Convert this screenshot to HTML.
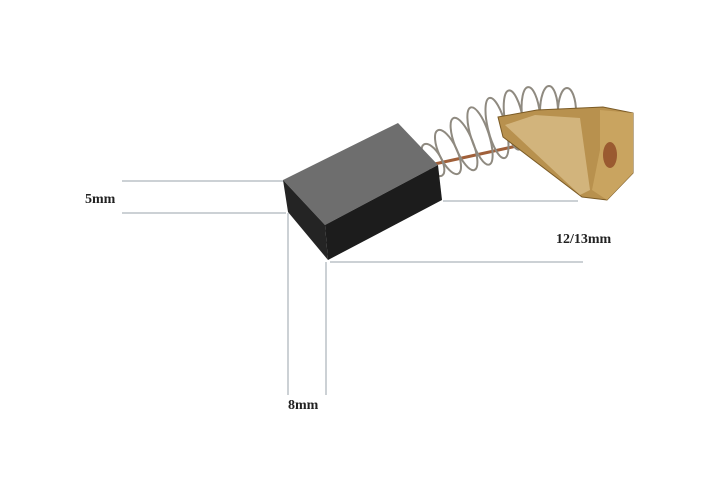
<!DOCTYPE html>
<html><head><style>body{margin:0;background:#fff}svg{display:block}</style></head><body>
<svg width="713" height="489" viewBox="0 0 713 489" font-family="Liberation Serif, serif">
<rect width="713" height="489" fill="#fff"/>
<g stroke="#9aa3ab" stroke-width="1" fill="none">
<line x1="122" y1="181" x2="285" y2="181"/>
<line x1="122" y1="213" x2="286" y2="213"/>
<line x1="288" y1="213" x2="288" y2="395"/>
<line x1="326" y1="262" x2="326" y2="395"/>
<line x1="330" y1="262" x2="583" y2="262"/>
<line x1="443" y1="201" x2="578" y2="201"/>
</g>
<!-- spring -->
<line x1="430" y1="165" x2="590" y2="130" stroke="#a0603a" stroke-width="3"/>
<g stroke="#8f8a80" stroke-width="2" fill="none">
<ellipse cx="433" cy="160" rx="8" ry="18" transform="rotate(-30 433 160)"/>
<ellipse cx="448" cy="152" rx="9" ry="24" transform="rotate(-25 448 152)"/>
<ellipse cx="464" cy="144" rx="9" ry="28" transform="rotate(-22 464 144)"/>
<ellipse cx="480" cy="136" rx="9" ry="30" transform="rotate(-18 480 136)"/>
<ellipse cx="497" cy="128" rx="9" ry="31" transform="rotate(-14 497 128)"/>
<ellipse cx="514" cy="120" rx="9" ry="30" transform="rotate(-10 514 120)"/>
<ellipse cx="531" cy="115" rx="9" ry="28" transform="rotate(-6 531 115)"/>
<ellipse cx="549" cy="112" rx="9" ry="26"/>
<ellipse cx="567" cy="112" rx="9" ry="24"/>
</g>
<!-- brass -->
<polygon points="498,117 537,110 603,107 633,113 633,173 607,200 582,197 503,137" fill="#b8914e" stroke="#7a5a25" stroke-width="1"/>
<polygon points="505,125 535,115 580,118 590,190 580,195" fill="#d2b47c"/>
<polygon points="600,110 633,113 633,173 607,200 592,190 600,150" fill="#c9a460"/>
<ellipse cx="610" cy="155" rx="7" ry="13" fill="#9a5a30"/>
<!-- block -->
<polygon points="283,180 398,123 438,165 325,225" fill="#6e6e6e"/>
<polygon points="283,180 325,225 328,260 288,212" fill="#242424"/>
<polygon points="325,225 438,165 442,200 328,260" fill="#1c1c1c"/>
<g font-size="14" font-weight="bold" fill="#222">
<text x="85" y="203">5mm</text>
<text x="556" y="243">12/13mm</text>
<text x="288" y="409">8mm</text>
</g>
</svg>
</body></html>
